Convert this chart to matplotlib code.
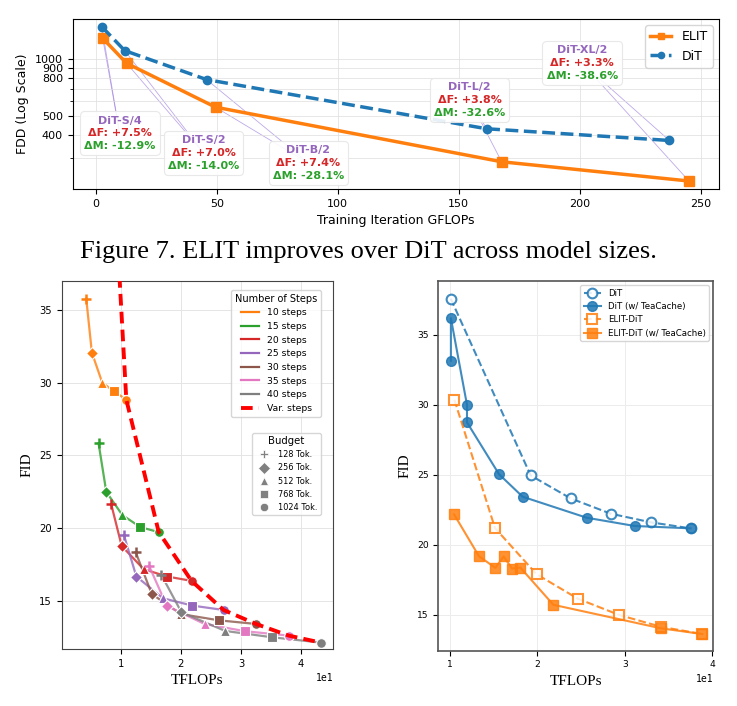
import matplotlib
matplotlib.use('Agg')
import matplotlib.pyplot as plt
from matplotlib.lines import Line2D
from matplotlib.ticker import NullFormatter
from matplotlib.offsetbox import TextArea, VPacker, AnnotationBbox

# ---------------- top panel: FDD vs training GFLOPs ----------------
model_names = ['DiT-S/4', 'DiT-S/2', 'DiT-B/2', 'DiT-L/2', 'DiT-XL/2']
dit_gflops = [2.5, 12.0, 45.8, 161.5, 237.0]
dit_fdd = [1488, 1111, 781, 429, 372]
elit_gflops = [2.9, 12.8, 49.5, 167.7, 245.1]
elit_fdd = [1291, 952, 558, 287, 227]
delta_f = ['+7.5%', '+7.0%', '+7.4%', '+3.8%', '+3.3%']
delta_m = ['-12.9%', '-14.0%', '-28.1%', '-32.6%', '-38.6%']
# where the label boxes sit (data coords)
label_pos = [(9.9, 406), (44.6, 319), (87.9, 282), (154.5, 610), (201.0, 953)]

# ---------------- bottom left: FID vs TFLOPs per step count ----------------
budgets = ['128 Tok.', '256 Tok.', '512 Tok.', '768 Tok.', '1024 Tok.']
budget_markers = ['+', 'D', '^', 's', 'o']
step_labels = ['10 steps', '15 steps', '20 steps', '25 steps', '30 steps', '35 steps', '40 steps']
step_colors = ['tab:orange', 'tab:green', 'tab:red', 'tab:purple', 'tab:brown', 'tab:pink', 'tab:gray']
tf_10 = [4.28, 5.22, 6.94, 8.89, 10.94]
fid_10 = [35.77, 32.05, 30.0, 29.4, 28.83]
tf_15 = [6.33, 7.61, 10.28, 13.28, 16.33]
fid_15 = [25.83, 22.5, 20.9, 20.07, 19.73]
tf_20 = [8.44, 10.17, 13.83, 17.72, 21.78]
fid_20 = [21.63, 18.78, 17.18, 16.68, 16.38]
tf_25 = [10.56, 12.61, 17.06, 21.94, 27.11]
fid_25 = [19.5, 16.68, 15.18, 14.68, 14.38]
tf_30 = [12.5, 15.17, 20.0, 26.33, 32.5]
fid_30 = [18.35, 15.48, 14.1, 13.67, 13.42]
tf_35 = [14.72, 17.67, 23.94, 30.72, 37.94]
fid_35 = [17.42, 14.66, 13.42, 12.92, 12.62]
tf_40 = [16.78, 20.11, 27.39, 35.11, 43.28]
fid_40 = [16.78, 14.22, 12.94, 12.51, 12.14]
tf_var = [9.3, 10.94, 16.33, 21.78, 27.11, 32.5, 37.94, 43.28]
fid_var = [41.0, 28.83, 19.73, 16.38, 14.38, 13.42, 12.62, 12.14]

# ---------------- bottom right: TeaCache comparison ----------------
dit_tf = [10.08, 19.22, 23.79, 28.36, 32.97, 37.5]
dit_fid = [37.59, 24.96, 23.32, 22.23, 21.61, 21.18]
dit_tc_tf = [10.1, 10.1, 11.94, 11.94, 15.6, 18.3, 25.62, 31.1, 37.5]
dit_tc_fid = [33.15, 36.19, 30.0, 28.75, 25.05, 23.44, 21.94, 21.35, 21.18]
elit_tf = [10.5, 15.14, 19.9, 24.63, 29.35, 34.11, 38.84]
elit_fid = [30.37, 21.2, 17.9, 16.15, 14.99, 14.15, 13.63]
elit_tc_tf = [10.46, 13.31, 15.18, 16.13, 17.09, 18.04, 21.81, 34.11, 38.84]
elit_tc_fid = [22.18, 19.19, 18.36, 19.17, 18.31, 18.38, 15.72, 14.04, 13.63]

W, H = 737, 706
fig = plt.figure(figsize=(W / 100, H / 100), dpi=100)


def frac(x0, y0, x1, y1):
    return [x0 / W, 1 - y1 / H, (x1 - x0) / W, (y1 - y0) / H]


# ================= top =================
ax = fig.add_axes(frac(72.7, 19, 719, 189))
ax.plot(elit_gflops, elit_fdd, '-', color='tab:orange', lw=2.5, marker='s', ms=6.5, label='ELIT', zorder=3)
ax.plot(dit_gflops, dit_fdd, '--', color='tab:blue', lw=2.5, marker='o', ms=6, label='DiT', zorder=3)
ax.set_yscale('log')
ax.set_xlim(-9.5, 257.5)
ax.set_ylim(206, 1633)
ax.set_yticks([400, 500, 800, 900, 1000])
ax.set_yticklabels(['400', '500', '800', '900', '1000'])
ax.set_yticks([300, 600, 700], minor=True)
ax.yaxis.set_minor_formatter(NullFormatter())
ax.set_xticks([0, 50, 100, 150, 200, 250])
ax.tick_params(labelsize=8)
ax.grid(True, which='both', color='#dddddd', lw=0.7, alpha=0.7)
ax.set_xlabel('Training Iteration GFLOPs', fontsize=9)
ax.set_ylabel('FDD (Log Scale)', fontsize=9)
ax.legend(loc='upper right', fontsize=9, handlelength=1.7, markerscale=0.75)

for i, name in enumerate(model_names):
    lx, ly = label_pos[i]
    for px, py in [(dit_gflops[i], dit_fdd[i]), (elit_gflops[i], elit_fdd[i])]:
        ax.annotate('', xy=(px, py), xytext=(lx, ly),
                    arrowprops=dict(arrowstyle='-', color='mediumpurple', lw=0.6, alpha=0.6,
                                    shrinkA=0, shrinkB=3), zorder=1.5)
    tp = dict(fontsize=8, fontweight='bold')
    box = VPacker(children=[TextArea(name, textprops=dict(color='tab:purple', **tp)),
                            TextArea('ΔF: ' + delta_f[i], textprops=dict(color='tab:red', **tp)),
                            TextArea('ΔM: ' + delta_m[i], textprops=dict(color='tab:green', **tp))],
                  align='center', pad=0, sep=2)
    ab = AnnotationBbox(box, (lx, ly), xycoords='data', frameon=True, pad=0.3,
                        bboxprops=dict(boxstyle='round,pad=0.3', fc='white', ec='#e6e6e6', lw=0.8, alpha=0.9))
    ab.set_zorder(5)
    ax.add_artist(ab)

fig.text(0.5, 1 - 258 / H, 'Figure 7. ELIT improves over DiT across model sizes.',
         ha='center', va='baseline', fontsize=19, family='Liberation Serif')

# ================= bottom left =================
ax1 = fig.add_axes(frac(61.7, 280.7, 333, 649))
series = [(tf_10, fid_10), (tf_15, fid_15), (tf_20, fid_20), (tf_25, fid_25),
          (tf_30, fid_30), (tf_35, fid_35), (tf_40, fid_40)]
for (xs, ys), col in zip(series, step_colors):
    ax1.plot(xs, ys, '-', color=col, lw=1.6, alpha=0.8, zorder=2)
    for x, y, m in zip(xs, ys, budget_markers):
        if m == '+':
            ax1.plot(x, y, marker='+', color=col, ms=7.5, mew=1.8, ls='none', zorder=3)
        else:
            ax1.plot(x, y, marker=m, color=col, ms=6.5 if m == 'D' else 7,
                     mec='white', mew=0.8, ls='none', zorder=3)
ax1.plot(tf_var, fid_var, '--', color='red', lw=2.8, dashes=(3, 1.6), zorder=4)
ax1.set_xlim(0.2, 45.3)
ax1.set_ylim(11.7, 37)
ax1.set_xticks([10, 20, 30, 40])
ax1.set_yticks([15, 20, 25, 30, 35])
ax1.ticklabel_format(style='sci', axis='x', scilimits=(0, 0))
ax1.xaxis.get_offset_text().set_family('DejaVu Sans Mono')
ax1.xaxis.get_offset_text().set_fontsize(7)
ax1.tick_params(labelsize=7.2)
ax1.grid(True, color='#e5e5e5', lw=0.7)
ax1.set_xlabel('TFLOPs', fontsize=11, family='Liberation Serif')
ax1.set_ylabel('FID', fontsize=11, family='Liberation Serif')
for s in ax1.spines.values():
    s.set_color('#444444')

step_handles = [Line2D([], [], color=c, lw=1.6) for c in step_colors]
step_handles.append(Line2D([], [], color='red', lw=2.8, ls='--', dashes=(3, 1.6)))
leg1 = ax1.legend(step_handles, step_labels + ['Var. steps'], title='Number of Steps',
                  loc='upper right', bbox_to_anchor=(0.956, 0.975), borderaxespad=0,
                  fontsize=6.7, title_fontsize=7)
ax1.add_artist(leg1)
budget_handles = [Line2D([], [], marker='P' if m == '+' else m, color='gray', ls='none', ms=6,
                         mec='white', mew=0.5) for m in budget_markers]
ax1.legend(budget_handles, budgets, title='Budget', loc='upper right',
           bbox_to_anchor=(0.956, 0.5865), borderaxespad=0, fontsize=5.9, title_fontsize=7.3)

# ================= bottom right =================
ax2 = fig.add_axes(frac(438.3, 281, 713.3, 650.7))
ax2.plot(dit_tf, dit_fid, '--', color='tab:blue', lw=1.5, alpha=0.85, marker='o', ms=7,
         mfc='white', mew=1.5, label='DiT')
ax2.plot(dit_tc_tf, dit_tc_fid, '-', color='tab:blue', lw=1.5, alpha=0.85, marker='o', ms=7,
         label='DiT (w/ TeaCache)')
ax2.plot(elit_tf, elit_fid, '--', color='tab:orange', lw=1.5, alpha=0.85, marker='s', ms=7,
         mfc='white', mew=1.5, label='ELIT-DiT')
ax2.plot(elit_tc_tf, elit_tc_fid, '-', color='tab:orange', lw=1.5, alpha=0.85, marker='s', ms=7,
         label='ELIT-DiT (w/ TeaCache)')
ax2.set_xlim(8.66, 40.1)
ax2.set_ylim(12.44, 38.85)
ax2.set_xticks([10, 20, 30, 40])
ax2.set_yticks([15, 20, 25, 30, 35])
ax2.ticklabel_format(style='sci', axis='x', scilimits=(0, 0))
ax2.xaxis.get_offset_text().set_family('DejaVu Sans Mono')
ax2.xaxis.get_offset_text().set_fontsize(7)
ax2.tick_params(labelsize=6.6)
ax2.grid(True, color='#ececec', lw=0.7)
ax2.set_xlabel('TFLOPs', fontsize=11, family='Liberation Serif')
ax2.set_ylabel('FID', fontsize=11, family='Liberation Serif')
for s in ax2.spines.values():
    s.set_color('#555555')
    s.set_linewidth(1.2)
ax2.legend(loc='upper right', fontsize=6.2)

fig.savefig('out.png', dpi=100)
